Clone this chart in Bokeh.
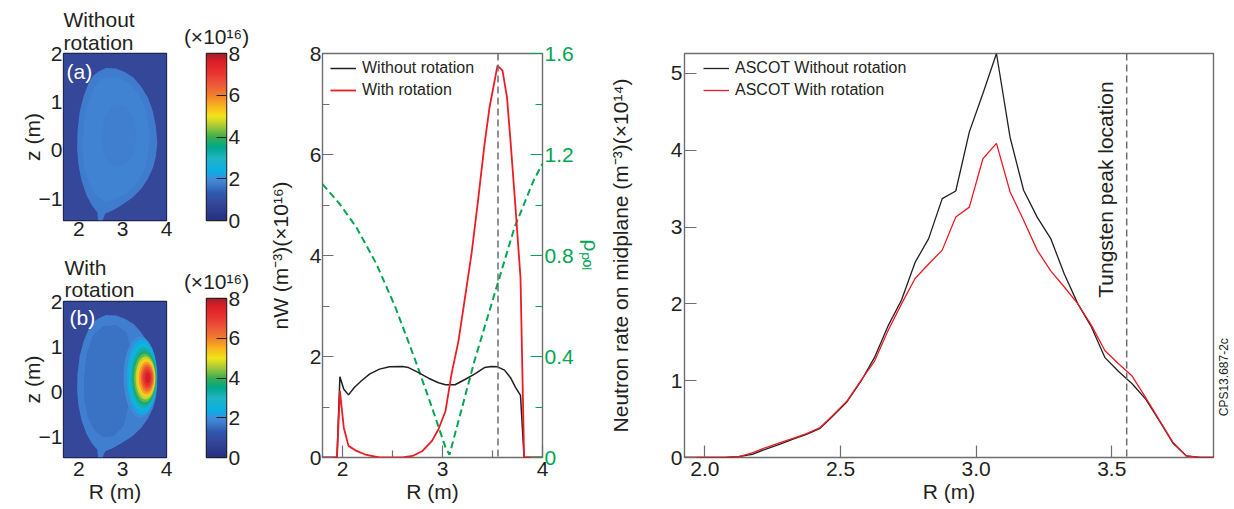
import numpy as np
from bokeh.plotting import figure
from bokeh.models import (Range1d, LinearAxis, FixedTicker, Label, Span, Title, PrintfTickFormatter,
                          LinearColorMapper, Legend, LegendItem, ColumnDataSource)
from bokeh.layouts import row, column
from bokeh.embed import file_html
from bokeh.resources import INLINE

# ======================= DATA =======================
# --- Panels (a)/(b): W density maps (x1e16 m^-3) ---
map_R_range = [1.65, 4.0]
map_z_range = [-1.45, 2.0]
map_ticks_R = [2, 3, 4]
map_ticks_z = [-1, 0, 1, 2]
cbar_range = [0, 8]
cbar_ticks = [0, 2, 4, 6, 8]

map_bg_value = 0.8
# plasma boundary
boundary_R = [2.45, 2.62, 2.85, 3.05, 3.25, 3.42, 3.58, 3.69, 3.76, 3.79, 3.76, 3.70, 3.58, 3.42, 3.22,
              3.00, 2.78, 2.60, 2.54, 2.44, 2.42, 2.30, 2.17, 2.06, 1.99, 1.96, 1.97, 2.02, 2.11, 2.22, 2.33]
boundary_z = [1.63, 1.70, 1.69, 1.62, 1.50, 1.32, 1.08, 0.80, 0.48, 0.15, -0.12, -0.34, -0.58, -0.80, -0.98,
              -1.12, -1.24, -1.31, -1.45, -1.45, -1.28, -1.14, -0.92, -0.62, -0.30, 0.05, 0.40, 0.80, 1.12, 1.38, 1.54]
# (a) without rotation: edge, lighter ring, core
a_edge_value = 1.74
a_ring_R = [2.55, 2.85, 3.10, 3.35, 3.52, 3.60, 3.60, 3.52, 3.35, 3.10, 2.80, 2.58, 2.38, 2.22, 2.12, 2.09, 2.12, 2.20, 2.35]
a_ring_z = [1.50, 1.52, 1.42, 1.18, 0.85, 0.45, 0.05, -0.35, -0.65, -0.88, -1.02, -1.05, -0.92, -0.65, -0.30, 0.10, 0.55, 0.95, 1.30]
a_ring_value = 1.82
a_core_R = [2.75, 3.05, 3.25, 3.32, 3.25, 3.05, 2.80, 2.60, 2.52, 2.58]
a_core_z = [0.95, 0.92, 0.65, 0.30, -0.05, -0.30, -0.35, -0.15, 0.25, 0.65]
a_core_value = 1.77
# (b) with rotation: edge, inner region, hot-spot contour levels
b_edge_value = 1.75
b_inner_R = [2.55, 2.85, 3.08, 3.18, 3.12, 3.08, 3.12, 3.02, 2.80, 2.55, 2.35, 2.20, 2.12, 2.12, 2.18, 2.32]
b_inner_z = [1.45, 1.48, 1.32, 1.00, 0.60, 0.10, -0.35, -0.75, -0.98, -1.00, -0.85, -0.55, -0.15, 0.35, 0.85, 1.25]
b_inner_value = 1.6
hot_v = [1.95, 2.3, 2.7, 3.2, 3.7, 4.2, 4.7, 5.2, 5.7, 6.2, 6.7, 7.2, 7.7]
hot_R = [3.40, 3.445, 3.46, 3.48, 3.495, 3.505, 3.52, 3.535, 3.545, 3.555, 3.56, 3.565, 3.57]
hot_z = [0.33, 0.33, 0.32, 0.32, 0.31, 0.31, 0.31, 0.31, 0.31, 0.31, 0.31, 0.31, 0.31]
hot_w = [0.76, 0.69, 0.64, 0.58, 0.54, 0.50, 0.45, 0.41, 0.36, 0.30, 0.25, 0.19, 0.11]
hot_h = [1.80, 1.67, 1.50, 1.34, 1.20, 1.08, 0.96, 0.84, 0.72, 0.61, 0.50, 0.38, 0.24]

# --- Middle panel: nW on midplane (x1e16 m^-3) and rho_pol ---
mid_R_range = [1.8, 4.0]
nW_range = [0, 8]
rho_range = [0, 1.6]
mid_R_norot = [1.80, 1.945, 1.974, 2.013, 2.06, 2.12, 2.19, 2.27, 2.37, 2.47, 2.60, 2.66, 2.76, 2.86,
               2.96, 3.03, 3.125, 3.22, 3.32, 3.42, 3.49, 3.55, 3.62, 3.68, 3.73, 3.78, 3.816, 4.00]
nW_norot = [0, 0, 1.60, 1.35, 1.24, 1.39, 1.52, 1.65, 1.75, 1.795, 1.80, 1.78, 1.68, 1.57,
            1.48, 1.44, 1.44, 1.54, 1.65, 1.78, 1.80, 1.795, 1.73, 1.58, 1.39, 1.23, 0, 0]
mid_R_rot = [1.80, 1.945, 1.974, 2.013, 2.06, 2.14, 2.24, 2.37, 2.60, 2.70, 2.80, 2.895, 2.96, 3.03, 3.09,
             3.16, 3.22, 3.29, 3.355, 3.42, 3.47, 3.55, 3.60, 3.645, 3.68, 3.73, 3.78, 3.816, 4.00]
nW_rot = [0, 0, 1.32, 0.59, 0.23, 0.13, 0.05, 0, 0, 0.03, 0.13, 0.33, 0.56, 0.92, 1.65,
          2.31, 3.10, 4.03, 5.08, 6.20, 6.93, 7.76, 7.66, 7.13, 6.27, 4.95, 3.56, 0, 0]
rho_R = [1.80, 1.974, 2.14, 2.34, 2.53, 2.73, 2.895, 3.03, 3.07, 3.16, 3.32, 3.52, 3.72, 3.91, 4.00]
rho_pol = [1.083, 1.003, 0.911, 0.766, 0.594, 0.383, 0.198, 0.040, 0.011, 0.145, 0.383, 0.647, 0.911, 1.096, 1.164]
tungsten_peak_R = 3.555

# --- Right panel: ASCOT neutron rate on midplane (x1e14 m^-3) ---
asc_R_range = [1.925, 3.875]
neut_range = [0, 5.26]
asc_R = [1.925, 1.975, 2.025, 2.075, 2.125, 2.175, 2.225, 2.275, 2.325, 2.375, 2.425, 2.475, 2.525, 2.575,
         2.625, 2.675, 2.725, 2.775, 2.825, 2.875, 2.925, 2.975, 3.025, 3.075, 3.125, 3.175, 3.225, 3.275,
         3.325, 3.375, 3.425, 3.475, 3.525, 3.575, 3.625, 3.675, 3.725, 3.775, 3.825, 3.875]
neut_norot = [0, 0, 0, 0, 0.01, 0.04, 0.11, 0.17, 0.24, 0.30, 0.38, 0.55, 0.73, 0.99,
              1.30, 1.71, 2.05, 2.54, 2.85, 3.37, 3.47, 4.24, 4.74, 5.26, 4.17, 3.48, 3.13, 2.85,
              2.39, 2.00, 1.70, 1.30, 1.12, 0.96, 0.76, 0.48, 0.19, 0.02, 0.0, 0.0]
neut_rot = [0, 0, 0, 0, 0.01, 0.06, 0.13, 0.19, 0.25, 0.31, 0.39, 0.56, 0.74, 1.00,
            1.25, 1.65, 2.00, 2.33, 2.52, 2.70, 3.13, 3.26, 3.89, 4.09, 3.46, 3.09, 2.70, 2.43,
            2.22, 2.00, 1.72, 1.39, 1.22, 1.06, 0.78, 0.49, 0.20, 0.02, 0.0, 0.0]
asc_ticks_R = [2.0, 2.5, 3.0, 3.5]
asc_ticks_y = [0, 1, 2, 3, 4, 5]

# ======================= STYLE =======================
FONT = "Liberation Sans"
INK = "#231f20"
AXC = "#6d6e71"
GREEN = "#00a651"
RED = "#ed1c24"
FS = "21px"

pal_pos = [0.0, 0.8, 1.3, 1.8, 2.05, 2.3, 3.0, 3.5, 4.0, 4.5, 5.0, 5.5, 6.0, 6.5, 7.0, 7.6, 8.0]
pal_col = ["#26307f", "#34479a", "#2f5aae", "#4282d2", "#3a92dc", "#0aaee6", "#20b4c4", "#00a88c",
           "#3aae50", "#a2c83a", "#f3e41a", "#f9b41d", "#f1802b", "#ee5a39", "#ea3833", "#de1f26", "#a3202a"]


def _rgb(h):
    return tuple(int(h[i:i + 2], 16) for i in (1, 3, 5))


def build_palette(pos, cols, n=256):
    out = []
    for i in range(n):
        v = pos[0] + (pos[-1] - pos[0]) * i / (n - 1)
        k = len(pos) - 2
        for j in range(len(pos) - 1):
            if pos[j] <= v < pos[j + 1]:
                k = j
                break
        t = (v - pos[k]) / (pos[k + 1] - pos[k])
        a, b = _rgb(cols[k]), _rgb(cols[k + 1])
        out.append("#%02x%02x%02x" % tuple(round(a[m] + (b[m] - a[m]) * t) for m in range(3)))
    return out


mapper = LinearColorMapper(palette=build_palette(pal_pos, pal_col), low=cbar_range[0], high=cbar_range[1])
cmap_fill = {"field": "v", "transform": mapper}


def base_fig(w, h, xr, yr, bl, br, bt, bb, **kw):
    p = figure(width=w, height=h, x_range=Range1d(*xr), y_range=Range1d(*yr),
               output_backend="svg", toolbar_location=None, title=None,
               min_border_left=bl, min_border_right=br, min_border_top=bt, min_border_bottom=bb, **kw)
    p.xgrid.visible = False
    p.ygrid.visible = False
    p.outline_line_color = AXC
    p.outline_line_width = 1.4
    p.background_fill_color = "white"
    p.border_fill_color = "white"
    return p


def style_axis(ax, ticks, minor=(), tin=12, min_in=7, tick_color=AXC, label_color=INK, standoff=2, overrides=None):
    ax.ticker = FixedTicker(ticks=list(ticks), minor_ticks=list(minor))
    ax.axis_line_color = None
    ax.major_tick_in = tin
    ax.major_tick_out = 0
    ax.minor_tick_in = min_in
    ax.minor_tick_out = 0
    ax.major_tick_line_color = tick_color if tin > 0 else None
    ax.minor_tick_line_color = tick_color if minor else None
    ax.major_tick_line_width = 1.2
    ax.minor_tick_line_width = 1.2
    ax.major_label_text_font = FONT
    ax.major_label_text_font_size = FS
    ax.major_label_text_color = label_color
    ax.major_label_standoff = standoff
    ax.axis_label_text_font = FONT
    ax.axis_label_text_font_size = FS
    ax.axis_label_text_font_style = "normal"
    ax.axis_label_text_color = label_color
    if overrides:
        ax.major_label_overrides = overrides


def txt(p, text, x, y, xo=0, yo=0, align="left", base="alphabetic", size=FS, color=INK, angle=0):
    p.add_layout(Label(x=x, y=y, x_offset=xo, y_offset=yo, text=text, text_align=align,
                       text_baseline=base, text_font=FONT, text_font_size=size, text_color=color,
                       angle=angle, angle_units="deg"))


def add_title(p, text, align="left", offset=0, standoff=0, line_height=1.0):
    p.add_layout(Title(text=text, align=align, offset=offset, standoff=standoff, text_font=FONT,
                       text_font_size=FS, text_font_style="normal", text_color=INK,
                       text_line_height=line_height), "above")


def map_fig(w, h, bl, br, bt, bb):
    p = base_fig(w, h, map_R_range, map_z_range, bl, br, bt, bb)
    p.outline_line_color = "#1b1d3f"
    p.outline_line_width = 1.3
    style_axis(p.xaxis[0], map_ticks_R, tin=0, standoff=1)
    style_axis(p.yaxis[0], map_ticks_z, tin=0, standoff=1, overrides={-1: "\u22121"})
    p.yaxis[0].axis_label = "z (m)"
    p.yaxis[0].axis_label_standoff = -8
    bg = ColumnDataSource(dict(l=[map_R_range[0]], r=[map_R_range[1]], b=[map_z_range[0]],
                               t=[map_z_range[1]], v=[map_bg_value]))
    p.quad(left="l", right="r", bottom="b", top="t", source=bg, fill_color=cmap_fill, line_color=None)
    return p


def patches(p, xs, ys, vals):
    src = ColumnDataSource(dict(xs=xs, ys=ys, v=vals))
    p.patches("xs", "ys", source=src, fill_color=cmap_fill, line_color=None)


def cbar_fig(w, h, bl, br, bt, bb, standoff):
    p = base_fig(w, h, (0, 1), cbar_range, bl, br, bt, bb, x_axis_location=None, y_axis_location="right")
    grad = np.linspace(cbar_range[0], cbar_range[1], 256)[:, None]
    p.image(image=[grad], x=0, y=cbar_range[0], dw=1, dh=cbar_range[1] - cbar_range[0], color_mapper=mapper)
    style_axis(p.yaxis[0], cbar_ticks, tin=10, tick_color=INK, standoff=2)
    p.outline_line_color = INK
    p.outline_line_width = 1.5
    add_title(p, "(\u00d710\u00b9\u2076)", align="center", offset=4, standoff=standoff)
    return p


# ---------------- (a) ----------------
fa = map_fig(180, 253, 61, 12, 53, 33)
patches(fa, [boundary_R, a_ring_R, a_core_R], [boundary_z, a_ring_z, a_core_z],
        [a_edge_value, a_ring_value, a_core_value])
add_title(fa, "Without\nrotation", align="left", offset=0, standoff=0)
txt(fa, "(a)", map_R_range[0], map_z_range[1], xo=3, yo=-18, color="white")

# ---------------- (b) ----------------
fb = map_fig(180, 256, 63, 14, 45, 52)
patches(fb, [boundary_R, b_inner_R], [boundary_z, b_inner_z], [b_edge_value, b_inner_value])
hs = ColumnDataSource(dict(x=hot_R, y=hot_z, w=hot_w, h=hot_h, v=hot_v))
fb.ellipse(x="x", y="y", width="w", height="h", source=hs, fill_color=cmap_fill, line_color=None)
add_title(fb, "With\nrotation", align="left", offset=1, standoff=1, line_height=0.96)
txt(fb, "(b)", map_R_range[0], map_z_range[1], xo=6, yo=-16, color="white")
fb.xaxis[0].major_label_standoff = 4
fb.xaxis[0].axis_label = "R (m)"
fb.xaxis[0].axis_label_standoff = 1

ca = cbar_fig(85, 253, 26, 39, 53, 33, 12)
cb = cbar_fig(85, 256, 26, 39, 45, 52, 12)

# ---------------- middle ----------------
mid = base_fig(340, 509, mid_R_range, nW_range, 57, 60, 53, 52)
mid.extra_y_ranges = {"rho": Range1d(*rho_range)}
rax = LinearAxis(y_range_name="rho")
mid.add_layout(rax, "right")
style_axis(mid.xaxis[0], [2, 3, 4], [2.5, 3.5], tin=12, min_in=7, standoff=4)
mid.xaxis[0].axis_label = "R (m)"
mid.xaxis[0].axis_label_standoff = 1
style_axis(mid.left[0], [0, 2, 4, 6, 8], [1, 3, 5, 7], tin=11, min_in=7, standoff=1)
mid.left[0].axis_label = "nW (m\u207b\u00b3)(\u00d710\u00b9\u2076)"
mid.left[0].axis_label_standoff = 15
style_axis(rax, [0, 0.4, 0.8, 1.2, 1.6], [0.2, 0.6, 1.0, 1.4], tin=12, min_in=7,
           tick_color=GREEN, label_color=GREEN, standoff=2, overrides={0: "0"})
rax.axis_label = "\u03c1\u209a\u2092\u2097"
rax.axis_label_standoff = 3

mid.add_layout(Span(location=tungsten_peak_R, dimension="height", line_color=AXC,
                    line_width=1.5, line_dash="7 4"))
mid.line(rho_R, rho_pol, y_range_name="rho", line_color=GREEN, line_width=2, line_dash="7 4")
m_no = mid.line(mid_R_norot, nW_norot, line_color=INK, line_width=1.5)
m_ro = mid.line(mid_R_rot, nW_rot, line_color=RED, line_width=1.8)


def legend(p, items, loc):
    lg = Legend(items=[LegendItem(label=t, renderers=[r]) for t, r in items], location=loc)
    lg.background_fill_alpha = 0
    lg.border_line_alpha = 0
    lg.label_text_font = FONT
    lg.label_text_font_size = "16px"
    lg.label_text_color = INK
    lg.glyph_width = 26
    lg.glyph_height = 20
    lg.label_height = 20
    lg.label_standoff = 6
    lg.spacing = 2
    lg.padding = 0
    lg.margin = 0
    p.add_layout(lg)


legend(mid, [("Without rotation", m_no), ("With rotation", m_ro)], (8, 357))

# ---------------- right ----------------
rf = base_fig(610, 509, asc_R_range, neut_range, 79, 2, 53, 52)
style_axis(rf.xaxis[0], asc_ticks_R, tin=12, standoff=4)
rf.xaxis[0].formatter = PrintfTickFormatter(format="%.1f")
rf.xaxis[0].axis_label = "R (m)"
rf.xaxis[0].axis_label_standoff = 1
style_axis(rf.yaxis[0], asc_ticks_y, tin=12, standoff=2)
rf.yaxis[0].axis_label = "Neutron rate on midplane (m\u207b\u00b3)(\u00d710\u00b9\u2074)"
rf.yaxis[0].axis_label_standoff = 36
rf.add_layout(Span(location=tungsten_peak_R, dimension="height", line_color=AXC,
                   line_width=1.5, line_dash="7 4"))
r_no = rf.line(asc_R, neut_norot, line_color=INK, line_width=1.3)
r_ro = rf.line(asc_R, neut_rot, line_color=RED, line_width=1.3)
legend(rf, [("ASCOT Without rotation", r_no), ("ASCOT With rotation", r_ro)], (19, 357))
txt(rf, "Tungsten peak location", tungsten_peak_R, 2.08, xo=-10, align="left", base="bottom", angle=90)

# ---------------- figure code (narrow strip right of the last panel) ----------------
cps = figure(width=18, height=509, x_range=Range1d(0, 18), y_range=Range1d(0, 509),
             output_backend="svg", toolbar_location=None, title=None,
             x_axis_location=None, y_axis_location=None,
             min_border_left=0, min_border_right=0, min_border_top=0, min_border_bottom=0)
cps.xgrid.visible = False
cps.ygrid.visible = False
cps.outline_line_color = None
txt(cps, "CPS13.687-2c", 1, 52, align="left", base="top", size="12px", angle=90)

layout = row(column(fa, fb), column(ca, cb), mid, rf, cps)
open("out.html", "w").write(file_html(layout, INLINE))
